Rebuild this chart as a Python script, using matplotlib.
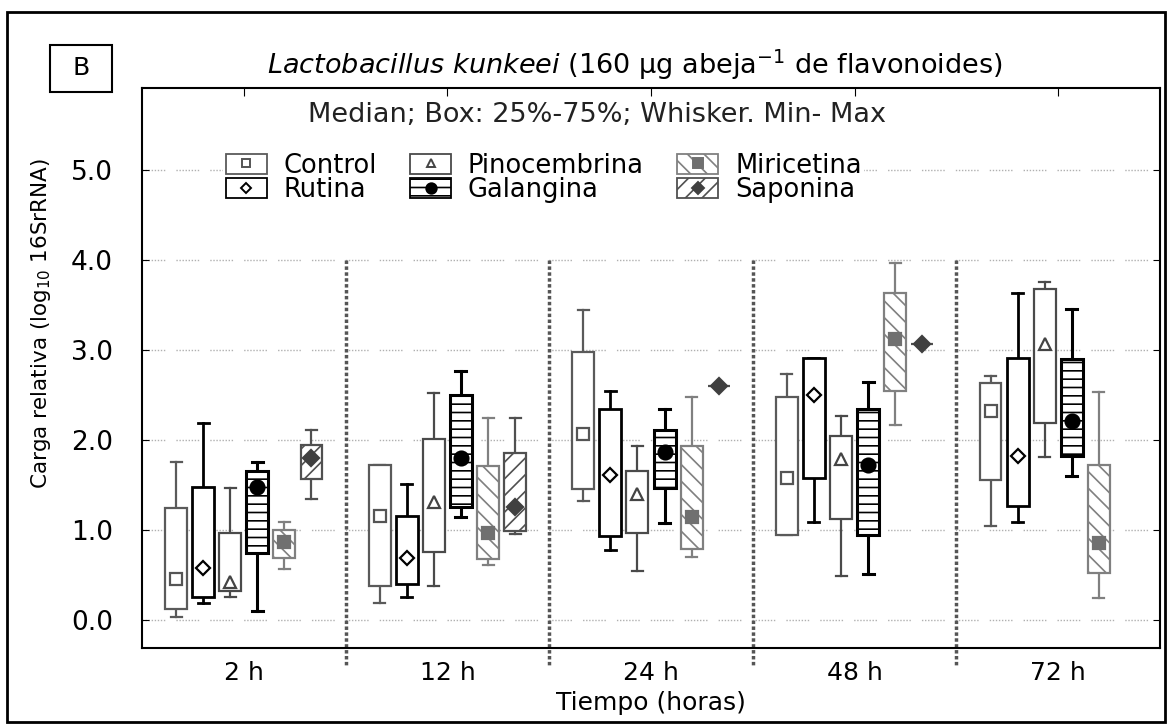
import numpy as np
import matplotlib
matplotlib.use("Agg")
import matplotlib.pyplot as plt
from matplotlib.patches import Patch, Rectangle
from matplotlib.lines import Line2D

plt.rcParams['font.family'] = ['DejaVu Sans']
plt.rcParams['hatch.linewidth'] = 1.2

times = ['2 h', '12 h', '24 h', '48 h', '72 h']
treatments = ['Control', 'Rutina', 'Pinocembrina', 'Galangina', 'Miricetina', 'Saponina']

# per time: [min, q25, median, q75, max]  (log10 16SrRNA)
control = [[0.03, 0.12, 0.46, 1.24, 1.76],
           [0.19, 0.38, 1.16, 1.72, 1.72],
           [1.32, 1.46, 2.07, 2.98, 3.44],
           [0.94, 0.94, 1.58, 2.48, 2.73],
           [1.04, 1.56, 2.32, 2.63, 2.71]]
rutina = [[0.19, 0.26, 0.58, 1.48, 2.19],
          [0.26, 0.40, 0.69, 1.16, 1.51],
          [0.78, 0.93, 1.61, 2.34, 2.54],
          [1.09, 1.58, 2.50, 2.91, 2.91],
          [1.09, 1.27, 1.82, 2.91, 3.63]]
pinocembrina = [[0.26, 0.32, 0.42, 0.97, 1.47],
                [0.38, 0.76, 1.31, 2.01, 2.52],
                [0.54, 0.97, 1.40, 1.66, 1.93],
                [0.49, 1.12, 1.79, 2.05, 2.27],
                [1.81, 2.19, 3.07, 3.68, 3.76]]
galangina = [[0.10, 0.74, 1.48, 1.66, 1.76],
             [1.15, 1.26, 1.80, 2.50, 2.77],
             [1.08, 1.47, 1.87, 2.11, 2.34],
             [0.51, 0.94, 1.72, 2.35, 2.65],
             [1.60, 1.82, 2.21, 2.90, 3.45]]
miricetina = [[0.57, 0.69, 0.87, 1.00, 1.09],
              [0.61, 0.68, 0.97, 1.71, 2.24],
              [0.70, 0.79, 1.15, 1.93, 2.48],
              [2.17, 2.54, 3.12, 3.63, 3.97],
              [0.25, 0.52, 0.86, 1.72, 2.53]]
saponina = [[1.35, 1.57, 1.80, 1.95, 2.11],
            [0.96, 0.99, 1.26, 1.86, 2.25],
            [2.60, 2.60, 2.60, 2.60, 2.60],
            [3.07, 3.07, 3.07, 3.07, 3.07],
            None]

data = [control, rutina, pinocembrina, galangina, miricetina, saponina]

# look of each treatment
styles = [
    dict(ec='#5a5a5a', lw=1.6, hatch='', marker='s', mfc='white', mec='#555555', ms=8),
    dict(ec='black', lw=2.0, hatch='', marker='D', mfc='white', mec='black', ms=7),
    dict(ec='#4a4a4a', lw=1.6, hatch='', marker='^', mfc='white', mec='#444444', ms=8),
    dict(ec='black', lw=2.2, hatch='--', marker='o', mfc='black', mec='black', ms=10),
    dict(ec='#808080', lw=1.6, hatch='\\\\', marker='s', mfc='#707070', mec='#707070', ms=9),
    dict(ec='#505050', lw=1.6, hatch='//', marker='D', mfc='#404040', mec='#404040', ms=8),
]

W, H = 1170, 727
fig = plt.figure(figsize=(W / 100, H / 100), dpi=100)
ax = fig.add_axes([142 / W, 1 - 648 / H, 1018 / W, 560 / H])

step = 0.133
bw = 0.108
for j, (name, rows, st) in enumerate(zip(treatments, data, styles)):
    stats, pos = [], []
    for i, r in enumerate(rows):
        if r is None:
            continue
        stats.append(dict(whislo=r[0], q1=r[1], med=r[2], q3=r[3], whishi=r[4], label=''))
        pos.append(i + 1 + (j - 2.5) * step)
    res = ax.bxp(stats, positions=pos, widths=bw, capwidths=bw * 0.5,
                 patch_artist=True, showfliers=False,
                 boxprops=dict(facecolor='white', edgecolor=st['ec'], linewidth=st['lw']),
                 whiskerprops=dict(color=st['ec'], linewidth=st['lw']),
                 capprops=dict(color=st['ec'], linewidth=st['lw']),
                 medianprops=dict(visible=False))
    for b in res['boxes']:
        b.set_hatch(st['hatch'])
        b.set_zorder(3)
    meds = [s['med'] for s in stats]
    ax.plot(pos, meds, ls='none', marker=st['marker'], mfc=st['mfc'], mec=st['mec'],
            mew=1.6, ms=st['ms'], zorder=5)

# dotted grid
for y in range(6):
    ax.axhline(y, color='#b0b0b0', lw=1, dashes=[1, 1.2] * 7 + [1, 8], zorder=0)

# separators between time groups
for xs in [1.5, 2.5, 3.5, 4.5]:
    ax.plot([xs, xs], [4.0, -0.52], color='#555555', lw=2.5, ls=(0, (1, 0.7)),
            clip_on=False, zorder=1)

ax.set_xlim(0.5, 5.5)
ax.set_ylim(-0.31, 5.91)
ax.set_xticks(range(1, 6))
ax.set_xticklabels(times)
ax.set_yticks(range(6))
ax.set_yticklabels(['%.1f' % v for v in range(6)])
ax.tick_params(axis='x', bottom=False, top=True, direction='in', length=6,
               labelsize=18, pad=9)
ax.tick_params(axis='y', left=True, right=True, direction='in', length=5,
               labelsize=19, pad=21)
for s in ax.spines.values():
    s.set_linewidth(1.5)

ax.set_xlabel('Tiempo (horas)', fontsize=18, labelpad=5)
ax.set_ylabel(r'Carga relativa (log$_{10}$ 16SrRNA)', fontsize=15.5)
ax.yaxis.set_label_coords(-0.087, 0.58)

ax.text((597 - 142) / 1018, (648 - 115) / 560, 'Median; Box: 25%-75%; Whisker. Min- Max',
        transform=ax.transAxes, ha='center', va='center', fontsize=19.5, color='#222222')

handles = []
for st in styles:
    p = Patch(facecolor='white', edgecolor=st['ec'], hatch=st['hatch'], linewidth=1.3)
    m = Line2D([], [], ls='none', marker=st['marker'], mfc=st['mfc'], mec=st['mec'],
               mew=1.4, ms=st['ms'] * 0.75)
    handles.append((p, m))
leg = ax.legend(handles, treatments, ncol=3, loc='upper left',
                bbox_to_anchor=((223 - 142) / 1018, (648 - 150) / 560),
                fontsize=18.5, handlelength=1.6, handleheight=0.82, handletextpad=0.65,
                columnspacing=1.3, labelspacing=-0.05, borderpad=0.1, borderaxespad=0,
                frameon=True, fancybox=False, framealpha=1)
leg.get_frame().set_edgecolor('none')
leg.set_zorder(6)

fig.text(635 / W, 1 - 65 / H,
         r'$\mathit{Lactobacillus\ kunkeei}$ (160 µg abeja$^{-1}$ de flavonoides)',
         ha='center', va='center', fontsize=19.5)

# panel letter and outer frame
fig.patches.append(Rectangle((50 / W, 1 - 92 / H), 62 / W, 47 / H, transform=fig.transFigure,
                             fill=False, lw=1.5, ec='black'))
fig.text(81 / W, 1 - 68 / H, 'B', ha='center', va='center', fontsize=18)
fig.patches.append(Rectangle((7 / W, 1 - 722 / H), 1158 / W, 710 / H, transform=fig.transFigure,
                             fill=False, lw=2, ec='black'))

fig.savefig('out.png', dpi=100)
